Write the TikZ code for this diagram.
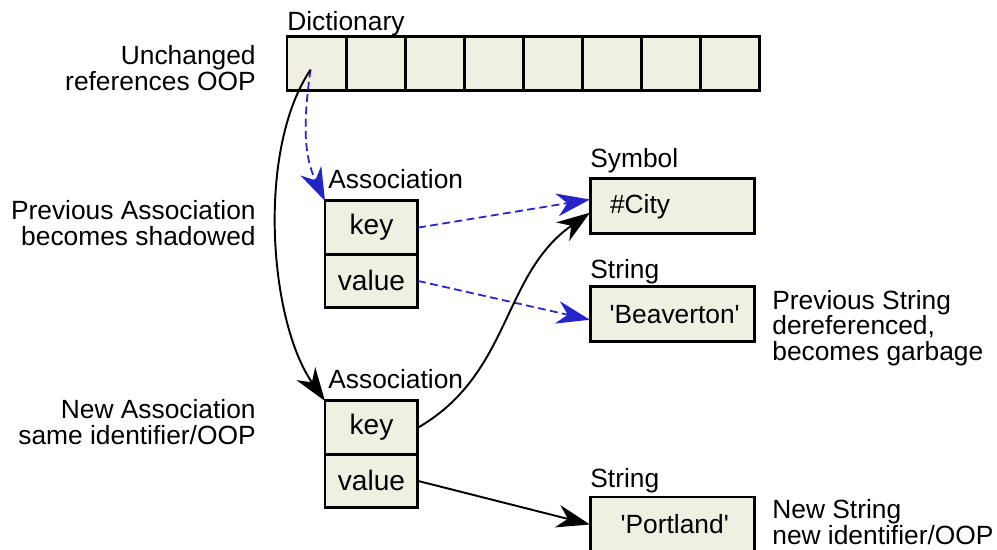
\documentclass[tikz,border=0pt]{standalone}
\usepackage{fontspec}
\setmainfont{Liberation Sans}
\usepackage{xcolor}
\usepackage{tikz}
\usetikzlibrary{positioning, arrows.meta, calc}

\definecolor{boxfill}{RGB}{239,239,226}
\definecolor{oldblue}{RGB}{36,36,200}

\begin{document}
\begin{tikzpicture}[
        x=0.02cm, y=0.02cm,
        node distance=0pt,
        every node/.style={font=\fontsize{15}{14.5}\selectfont},
        cell/.style={rectangle, draw, line width=1.7pt, fill=boxfill, inner sep=0pt, outer sep=0pt, minimum width=1.182cm, minimum height=1.068cm},
        slot/.style={cell, minimum width=1.86cm, minimum height=1.066cm, font=\fontsize{16}{16}\selectfont},
        obj/.style={cell, minimum width=3.3cm, minimum height=1.1cm},
        tag/.style={inner sep=0pt},
        note/.style={inner sep=0pt},
        ref/.style={-{Stealth[length=19pt, width=13pt, inset=6pt]}, line width=1.1pt},
        oldref/.style={ref, oldblue, line width=1pt, dash pattern=on 4.5pt off 2.5pt}
    ]
        \useasboundingbox (0,0) rectangle (997,550);

        % Dictionary slots
        \node[cell, anchor=north west] (d0) at (287,513) {};
        \foreach \i [count=\j from 0] in {1,...,7}
            \node[cell, right=0pt of d\j] (d\i) {};
        \node[tag, above right=3.8pt and 0pt of d0.north west, anchor=base west] (dict_lbl) {Dictionary};
        \coordinate (oop) at ($(d0.center)+(-6,-6)$);

        % Old and new associations
        \node[slot, anchor=north west] (key1) at (325,349) {key};
        \node[slot, below=0pt of key1] (val1) {value};
        \node[tag, above right=7.2pt and 1.7pt of key1.north west, anchor=base west] (assoc1_lbl) {Association};
        \node[slot, anchor=north west] (key2) at (325,149) {key};
        \node[slot, below=0pt of key2] (val2) {value};
        \node[tag, above right=7.2pt and 1.7pt of key2.north west, anchor=base west] (assoc2_lbl) {Association};

        % Objects
        \node[obj, anchor=north west, text width=2.5cm, align=left] (sym) at (590,371) {\#City};
        \node[tag, above right=6.8pt and 0pt of sym.north west, anchor=base west] (sym_lbl) {Symbol};
        \node[obj, anchor=north west] (beav) at (590,263) {\,\textquotesingle Beaverton\textquotesingle};
        \node[tag, above right=5pt and 0pt of beav.north west, anchor=base west] (beav_lbl) {String};
        \node[obj, anchor=north west] (port) at (590,53) {\,\textquotesingle Portland\textquotesingle};
        \node[tag, above right=5.5pt and 0pt of port.north west, anchor=base west] (port_lbl) {String};

        % Notes
        \node[note, align=right, anchor=east] (unchanged_note) at (256,482) {Unchanged\\references OOP};
        \node[note, align=right, anchor=east] (shadow_note) at (256,327) {Previous Association\\becomes shadowed};
        \node[note, align=right, anchor=east] (new_assoc_note) at (256,128) {New Association\\same identifier/OOP};
        \node[note, align=left, anchor=west] (garbage_note) at (772,222) {Previous String\\dereferenced,\\becomes garbage};
        \node[note, align=left, anchor=west] (new_str_note) at (772,28) {New String\\new identifier/OOP};

        % Previous references (dashed)
        \draw[oldref] (oop) to[out=262, in=115] (key1.north west);
        \draw[oldref] (key1.east) -- ([yshift=4pt]sym.west);
        \draw[oldref] (val1.east) -- ([yshift=-3pt]beav.west);

        % Current references
        \draw[ref] (oop) to[out=236, in=125, looseness=0.75] (key2.north west);
        \draw[ref] (key2.east) to[out=30, in=215] ([yshift=-3.5pt]sym.west);
        \draw[ref] (val2.east) -- (port.west);

    \end{tikzpicture}
\end{document}
